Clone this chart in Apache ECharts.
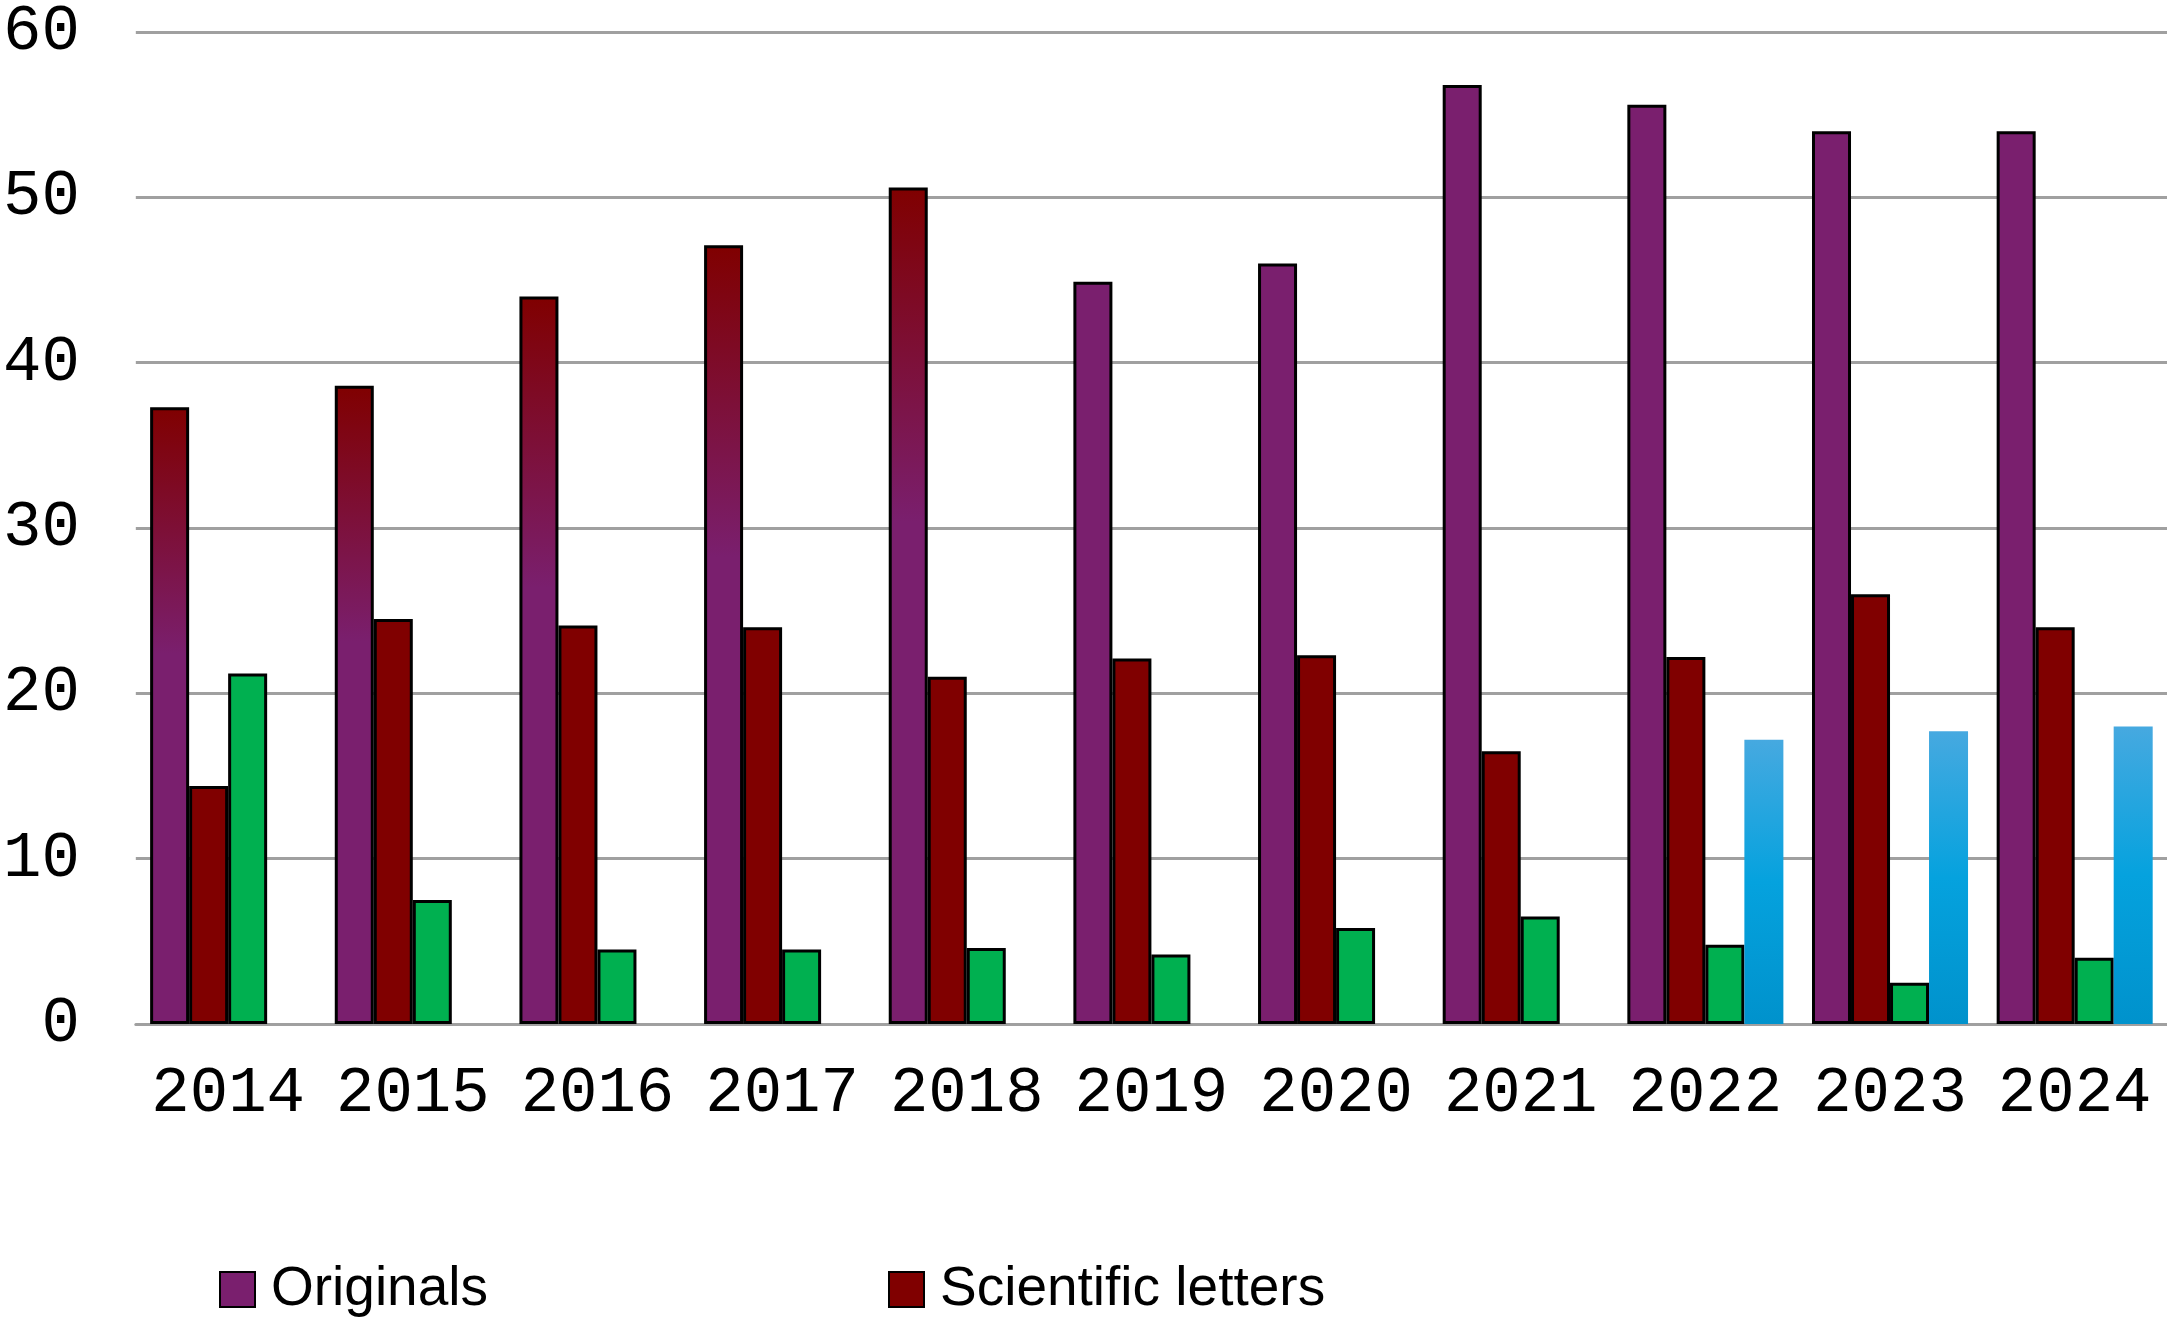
<!DOCTYPE html>
<html>
<head>
<meta charset="utf-8">
<script src="https://cdn.jsdelivr.net/npm/echarts@6/dist/echarts.min.js"></script>
<style>
html,body{margin:0;padding:0;background:#fff;}
#chart{width:2167px;height:1317px;}
</style>
</head>
<body>
<div id="chart"></div>
<script>
const categories = ['2014','2015','2016','2017','2018','2019','2020','2021','2022','2023','2024'];
const originals = [37.3, 38.6, 44.0, 47.1, 50.6, 44.9, 46.0, 56.8, 55.6, 54.0, 54.0];
const letters = [14.4, 24.5, 24.1, 24.0, 21.0, 22.1, 22.3, 16.5, 22.2, 26.0, 24.0];
const series3 = [21.2, 7.5, 4.5, 4.5, 4.6, 4.2, 5.8, 6.5, 4.8, 2.5, 4.0];
const series4 = [null, null, null, null, null, null, null, null, 17.2, 17.7, 18.0];
const yTicks = [0, 10, 20, 30, 40, 50, 60];

const PURPLE = '#7a1f6e';
const RED = '#800000';
const GREEN = '#00b050';

const gradOrig = {
  type: 'linear', x: 0, y: 0, x2: 0, y2: 1,
  colorStops: [
    {offset: 0, color: RED},
    {offset: 0.4, color: PURPLE},
    {offset: 1, color: PURPLE}
  ]
};
const gradBlue = {
  type: 'linear', x: 0, y: 0, x2: 0, y2: 1,
  colorStops: [
    {offset: 0, color: '#46a9e0'},
    {offset: 0.5, color: '#05a2de'},
    {offset: 1, color: '#0092cc'}
  ]
};

const chart = echarts.init(document.getElementById('chart'));
const border = {borderColor: '#000', borderWidth: 3};
const legendText = {fontFamily: 'Liberation Sans', fontSize: 55, color: '#000', padding: [0, 0, 0, 11]};

chart.setOption({
  animation: false,
  backgroundColor: '#fff',
  grid: {left: 125, right: 0, top: 25, bottom: 293, containLabel: false},
  legend: [
    {data: ['Originals'], left: 214, top: 1257, icon: 'rect', itemWidth: 35, itemHeight: 35, textStyle: legendText},
    {data: ['Scientific letters'], left: 883, top: 1257, icon: 'rect', itemWidth: 35, itemHeight: 35, textStyle: legendText}
  ],
  xAxis: {
    type: 'category',
    data: categories,
    axisTick: {show: false},
    axisLine: {show: true, lineStyle: {color: '#a0a0a0', width: 3}},
    axisLabel: {interval: 0, fontFamily: 'Liberation Mono', fontSize: 64, color: '#000', margin: 38}
  },
  yAxis: {
    type: 'value',
    min: yTicks[0], max: yTicks[yTicks.length - 1], interval: 10,
    axisLine: {show: false},
    axisTick: {show: false},
    splitLine: {show: true, lineStyle: {color: '#a0a0a0', width: 3}},
    axisLabel: {fontFamily: 'Liberation Mono', fontSize: 64, color: '#000', margin: 56}
  },
  series: [
    {
      name: 'Originals', type: 'bar', barGap: '0%', barCategoryGap: '15.5%',
      itemStyle: Object.assign({color: PURPLE}, border),
      data: originals.map((v, i) => i < 5 ? {value: v, itemStyle: {color: gradOrig}} : v)
    },
    {
      name: 'Scientific letters', type: 'bar', barGap: '0%', barCategoryGap: '15.5%',
      itemStyle: Object.assign({color: RED}, border),
      data: letters
    },
    {
      name: 'Series 3', type: 'bar', barGap: '0%', barCategoryGap: '15.5%',
      itemStyle: Object.assign({color: GREEN}, border),
      data: series3
    },
    {
      name: 'Series 4', type: 'bar', barGap: '0%', barCategoryGap: '15.5%',
      itemStyle: {color: gradBlue, borderWidth: 0},
      data: series4
    }
  ]
});
</script>
</body>
</html>
